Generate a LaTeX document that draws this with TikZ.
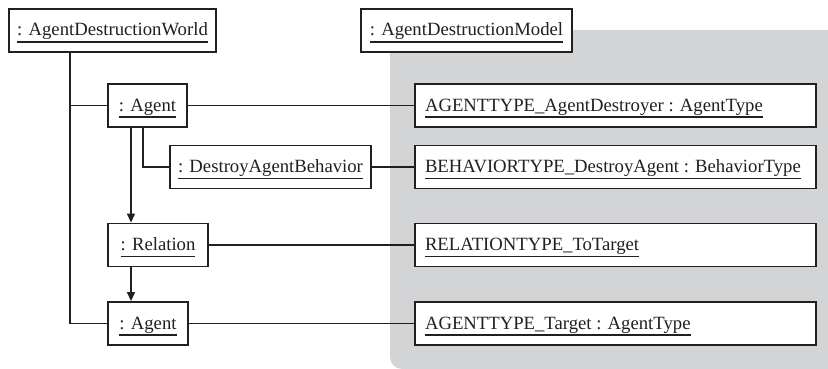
\documentclass[tikz,border=0pt]{standalone}
\usepackage{fontspec}
\setmainfont{Liberation Serif}
\usetikzlibrary{arrows.meta}
\definecolor{modelgray}{HTML}{D3D4D6}
\definecolor{ink}{HTML}{231F20}
% underlined object name (UML instance notation)
\newcommand\uline[1]{\setbox0=\hbox{#1}\rlap{\vrule width\wd0 height -5.4pt depth 6.7pt}\box0}
\tikzset{
  obj/.style={draw=ink, line width=1.8pt, fill=white, inner sep=0pt,
    minimum height=43pt, text height=18pt, text depth=7pt, text=ink,
    font=\fontsize{18.7}{22}\selectfont},
  typeobj/.style={obj, inner xsep=10pt},
  link/.style={draw=ink, line width=1.3pt},
  arr/.style={link, -{Triangle[length=9pt,width=8pt]}}
}
\begin{document}
\begin{tikzpicture}[x=1pt,y=-1pt]
\useasboundingbox (0,0) rectangle (828,369);
% model package background
\fill[modelgray, rounded corners=12pt] (390,30) rectangle (850,369);

% world and model heads
\node[obj, minimum width=207pt] (world) at (112.5,30.5) {\uline{: AgentDestructionWorld}};
\node[obj, minimum width=211pt] (model) at (466.5,30.5) {\uline{: AgentDestructionModel}};

% world instances
\node[obj, minimum width=79pt]  (agentA) at (147.5,105.5) {\uline{: Agent}};
\node[obj, minimum width=201pt] (dab)    at (270.5,167)   {\uline{: DestroyAgentBehavior}};
\node[obj, minimum width=100pt] (rel)    at (158,245)     {\uline{: Relation}};
\node[obj, minimum width=80pt]  (agentB) at (148,323.5)   {\uline{: Agent}};

% model types
\node[typeobj] (tA) at (615.5,105.5) {\makebox[381pt][l]{\uline{AGENTTYPE\_AgentDestroyer : AgentType}}};
\node[typeobj] (tB) at (615.5,167)   {\makebox[381pt][l]{\uline{BEHAVIORTYPE\_DestroyAgent : BehaviorType}}};
\node[typeobj] (tC) at (615.5,245)   {\makebox[381pt][l]{\uline{RELATIONTYPE\_ToTarget}}};
\node[typeobj] (tD) at (615.5,323.5) {\makebox[381pt][l]{\uline{AGENTTYPE\_Target : AgentType}}};

% containment tree of the world
\coordinate (trunk) at ([xshift=-42.5pt]world.south);
\draw[link] (trunk) |- (agentB.west);
\draw[link] (trunk |- agentA.west) -- (agentA.west);
\draw[link] ([xshift=-4.5pt]agentA.south) |- (dab.west);

% relation source and target
\coordinate (rx) at ([xshift=-16.5pt]agentA.south);
\draw[arr] (rx) -- (rx |- rel.north);
\draw[arr] (rx |- rel.south) -- (rx |- agentB.north);

% instance-of links
\draw[link] (agentA.east) -- (tA.west);
\draw[link] (dab.east) -- (tB.west);
\draw[link] (rel.east) -- (tC.west);
\draw[link] (agentB.east) -- (tD.west);
\end{tikzpicture}
\end{document}
